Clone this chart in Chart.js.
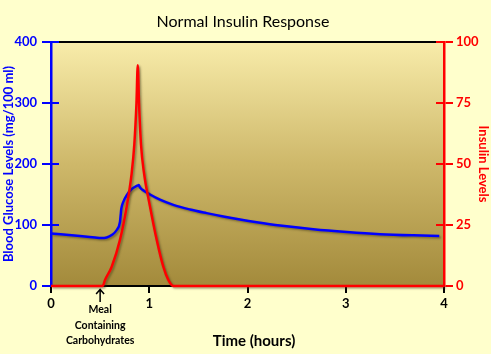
<!DOCTYPE html>
<html>
<head>
<meta charset="utf-8">
<script src="https://cdn.jsdelivr.net/npm/chart.js@4"></script>
<style>
  html, body { margin: 0; padding: 0; background: #FFFFCC; }
  #wrap { width: 491px; height: 354px; }
</style>
</head>
<body>
<div id="wrap"><canvas id="c" width="491" height="354"></canvas></div>
<script>
// ---- Data ----
const chartTitle = "Normal Insulin Response";
const xTitle = "Time (hours)";
const yLeftTitle = "Blood Glucose Levels (mg/100 ml)";
const yRightTitle = "Insulin Levels";
const mealNote = ["Meal", "Containing", "Carbohydrates"];
const mealTime = 0.5;

const xTicks = [0, 1, 2, 3, 4];
const glucoseTicks = [0, 100, 200, 300, 400];
const insulinTicks = [0, 25, 50, 75, 100];

const glucoseTime = [0, 0.295, 0.448, 0.51, 0.567, 0.618, 0.669, 0.702, 0.709, 0.716, 0.736, 0.771, 0.822, 0.879, 0.893, 0.906, 0.957, 1.008, 1.109, 1.245, 1.415, 1.585, 1.754, 1.924, 2.094, 2.331, 2.67, 3.01, 3.349, 3.688, 3.952];
const glucoseValues = [86, 82, 79.5, 78.5, 79.5, 83.6, 91.8, 105, 116, 127, 138, 149, 159, 164.4, 165.5, 161.5, 155, 150, 141.5, 133, 125.5, 119.5, 114, 109, 104.5, 99, 93, 88.5, 85, 83, 82];

const insulinTime = [0, 0.525, 0.55, 0.618, 0.702, 0.77, 0.821, 0.848, 0.87, 0.883, 0.896, 0.916, 0.947, 1.008, 1.076, 1.143, 1.194, 1.245, 4];
const insulinValues = [0, 0, 2.5, 7.9, 18.9, 32.5, 46.2, 58, 75, 90.5, 75, 58, 46.2, 32.5, 18.9, 7.9, 2.5, 0, 0];

const BLUE = '#0000FF', RED = '#FF0000';

const glucosePts = glucoseTime.map((t, i) => ({x: t, y: glucoseValues[i]}));
const insulinPts = insulinTime.map((t, i) => ({x: t, y: insulinValues[i]}));

const decor = {
  id: 'decor',
  beforeDraw(chart) {
    const {ctx, chartArea: a} = chart;
    ctx.save();
    ctx.fillStyle = '#FFFFCC';
    ctx.fillRect(0, 0, chart.width, chart.height);
    const g = ctx.createLinearGradient(0, a.top, 0, a.bottom);
    g.addColorStop(0, '#F8ECAA');
    g.addColorStop(0.5, '#CEB86A');
    g.addColorStop(1, '#A38A3B');
    ctx.fillStyle = g;
    ctx.fillRect(a.left, a.top, a.right - a.left, a.bottom - a.top);
    ctx.restore();
  },
  beforeDatasetsDraw(chart) {
    const {ctx, chartArea: a, scales} = chart;
    ctx.save();
    ctx.strokeStyle = '#000';
    ctx.lineWidth = 2;
    ctx.beginPath();
    ctx.moveTo(a.left, a.top);
    ctx.lineTo(a.right, a.top);
    ctx.stroke();
    ctx.lineWidth = 2;
    ctx.strokeStyle = BLUE;
    glucoseTicks.forEach(v => {
      const y = scales.y.getPixelForValue(v);
      ctx.beginPath(); ctx.moveTo(a.left, y); ctx.lineTo(a.left + 8, y); ctx.stroke();
    });
    ctx.strokeStyle = RED;
    insulinTicks.forEach(v => {
      const y = scales.y2.getPixelForValue(v);
      ctx.beginPath(); ctx.moveTo(a.right, y); ctx.lineTo(a.right - 8, y); ctx.stroke();
    });
    ctx.restore();
  },
  beforeDatasetDraw(chart) {
    const ctx = chart.ctx;
    ctx.save();
    ctx.shadowColor = 'rgba(60,50,20,0.45)';
    ctx.shadowOffsetX = 1.5;
    ctx.shadowOffsetY = 1.5;
    ctx.shadowBlur = 2;
  },
  afterDatasetDraw(chart) {
    chart.ctx.restore();
  },
  afterDraw(chart) {
    const {ctx, scales} = chart;
    ctx.save();
    ctx.fillStyle = '#000';
    ctx.textAlign = 'center';
    ctx.textBaseline = 'middle';
    ctx.font = '16px Lato';
    ctx.fillText(chartTitle, 243, 22);
    ctx.font = 'bold 15px Lato';
    ctx.fillText(xTitle, 254, 341);
    const mx = scales.x.getPixelForValue(mealTime);
    ctx.strokeStyle = '#000';
    ctx.lineWidth = 1.5;
    ctx.beginPath();
    ctx.moveTo(mx, 302); ctx.lineTo(mx, 289.5);
    ctx.moveTo(mx - 4, 294); ctx.lineTo(mx, 289.5); ctx.lineTo(mx + 4, 294);
    ctx.stroke();
    ctx.font = 'bold 10.5px Lato';
    ctx.fillText(mealNote[0], mx, 310);
    ctx.fillText(mealNote[1], mx, 325.5);
    ctx.fillText(mealNote[2], mx, 341);
    ctx.restore();
  }
};

new Chart(document.getElementById('c'), {
  type: 'line',
  data: {
    datasets: [
      {
        label: 'Insulin',
        data: insulinPts,
        yAxisID: 'y2',
        borderColor: RED,
        borderWidth: 2.5,
        pointRadius: 0,
        cubicInterpolationMode: 'monotone',
        clip: false,
        order: 0
      },
      {
        label: 'Glucose',
        data: glucosePts,
        yAxisID: 'y',
        borderColor: BLUE,
        borderWidth: 2.5,
        pointRadius: 0,
        cubicInterpolationMode: 'monotone',
        clip: false,
        order: 1
      }
    ]
  },
  options: {
    responsive: false,
    animation: false,
    events: [],
    layout: { padding: { top: 42, left: 0, right: 0, bottom: 0 } },
    plugins: { legend: { display: false }, title: { display: false }, tooltip: { enabled: false } },
    scales: {
      x: {
        type: 'linear',
        min: 0, max: 4,
        afterFit(s) { s.height = 68; },
        afterBuildTicks(s) { s.ticks = xTicks.map(v => ({value: v})); },
        ticks: { color: '#000', font: { family: 'Lato', weight: 'bold', size: 13 }, padding: 3, maxRotation: 0 },
        grid: { drawOnChartArea: false, color: '#000', lineWidth: 2, tickLength: 7 },
        border: { color: '#000', width: 2 }
      },
      y: {
        type: 'linear',
        position: 'left',
        min: 0, max: 400,
        afterFit(s) { s.width = 51; },
        afterBuildTicks(s) { s.ticks = glucoseTicks.map(v => ({value: v})); },
        ticks: { color: BLUE, font: { family: 'Lato', weight: 'bold', size: 13 }, padding: 5 },
        grid: { drawOnChartArea: false, color: BLUE, lineWidth: 2, tickLength: 9 },
        border: { color: BLUE, width: 2.5 },
        title: { display: true, text: yLeftTitle, color: BLUE, font: { family: 'Lato', weight: 'bold', size: 13 }, padding: { top: 1, bottom: 0 } }
      },
      y2: {
        type: 'linear',
        position: 'right',
        min: 0, max: 100,
        afterFit(s) { s.width = 47; },
        afterBuildTicks(s) { s.ticks = insulinTicks.map(v => ({value: v})); },
        ticks: { color: RED, font: { family: 'Lato', weight: 'bold', size: 13 }, padding: 3 },
        grid: { drawOnChartArea: false, color: RED, lineWidth: 2, tickLength: 9 },
        border: { color: RED, width: 2.5 },
        title: { display: true, text: yRightTitle, color: RED, font: { family: 'Lato', weight: 'bold', size: 13 }, padding: { top: 0, bottom: 0 } }
      }
    }
  },
  plugins: [decor]
});
</script>
</body>
</html>
